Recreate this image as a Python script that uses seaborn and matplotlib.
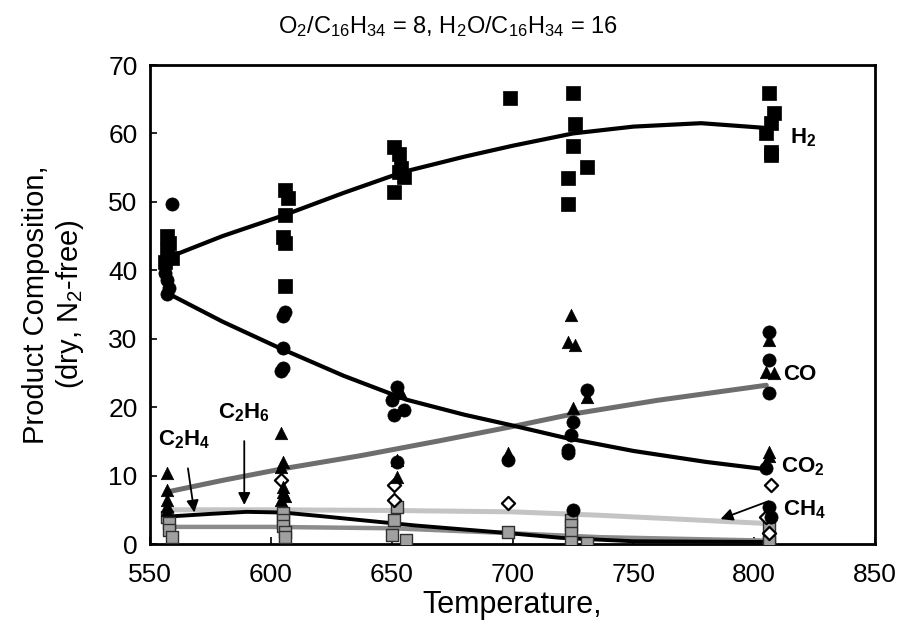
import matplotlib
matplotlib.use("Agg")
import matplotlib.pyplot as plt
import seaborn as sns

H2_T = [557, 558, 557, 559, 556, 606, 607, 606, 605, 606, 606,
        651, 653, 654, 655, 651, 653, 699, 725, 726, 725, 723, 723, 731,
        806, 808, 807, 805, 807, 807]
H2_Y = [45.0, 44.0, 43.0, 41.8, 41.2, 51.8, 50.6, 48.1, 44.9, 44.0, 37.7,
        58.0, 57.0, 55.0, 53.7, 51.5, 54.4, 65.2, 65.9, 61.4, 58.2, 53.5, 49.7, 55.1,
        65.9, 63.0, 61.5, 60.1, 57.3, 56.8]

CO2_T = [559, 556, 557, 558, 557, 606, 605, 605, 605, 604,
         652, 650, 655, 651, 652, 698, 731, 725, 724, 723, 723, 725,
         806, 806, 806, 805, 806, 807]
CO2_Y = [49.7, 39.6, 38.6, 37.4, 36.5, 33.9, 33.3, 28.6, 25.7, 25.3,
         23.0, 21.0, 19.6, 18.9, 12.0, 12.3, 22.5, 17.8, 15.9, 13.7, 13.3, 5.0,
         31.0, 26.9, 22.1, 11.1, 5.4, 4.0]

CO_T = [557, 557, 557, 557, 557, 604, 605, 604, 605, 605, 606, 604,
        654, 652, 652, 698, 724, 723, 726, 725, 731,
        806, 805, 808, 806, 806]
CO_Y = [10.4, 7.9, 6.4, 5.6, 5.0, 16.2, 12.0, 11.3, 8.3, 7.6, 7.0, 6.4,
        22.0, 12.3, 9.8, 13.3, 33.5, 29.5, 29.1, 19.9, 21.5,
        29.8, 25.1, 25.0, 13.4, 12.9]

CH4_T = [604, 651, 651, 698, 807, 805, 806]
CH4_Y = [9.4, 8.6, 6.4, 6.0, 8.6, 3.9, 1.6]

C2_T = [557, 558, 558, 559, 605, 605, 605, 606, 606,
        652, 651, 650, 656, 698, 724, 724, 724, 724, 731,
        806, 806, 806]
C2_Y = [4.0, 3.1, 2.1, 1.0, 4.5, 3.5, 2.6, 1.8, 1.0,
        5.4, 3.5, 1.3, 0.6, 1.8, 3.5, 2.8, 1.6, 0.3, 0.2,
        2.3, 0.8, 0.3]

# fitted curves
H2_FIT_T = [557, 580, 605, 630, 655, 680, 700, 725, 750, 778, 805]
H2_FIT_Y = [41.8, 45.0, 48.0, 51.3, 54.4, 56.6, 58.2, 60.0, 61.0, 61.5, 60.8]
CO2_FIT_T = [557, 580, 602, 630, 656, 680, 699, 722, 750, 780, 803]
CO2_FIT_Y = [36.7, 32.5, 28.9, 24.6, 21.1, 18.9, 17.4, 15.5, 13.6, 12.0, 11.0]
CO_FIT_T = [557, 580, 605, 637, 670, 699, 725, 760, 805]
CO_FIT_Y = [7.6, 9.3, 11.0, 12.9, 15.1, 17.1, 19.0, 21.0, 23.2]
CH4_FIT_T = [557, 600, 650, 700, 736, 765, 805]
CH4_FIT_Y = [5.0, 5.0, 4.9, 4.7, 4.2, 3.7, 3.0]
C2H4_FIT_T = [557, 575, 590, 605, 620, 637, 660, 698, 720, 750, 805]
C2H4_FIT_Y = [4.0, 4.4, 4.7, 4.6, 4.1, 3.5, 2.7, 1.6, 0.9, 0.4, 0.3]
C2H6_FIT_T = [557, 600, 650, 698, 736, 805]
C2H6_FIT_Y = [2.5, 2.5, 2.3, 1.6, 1.0, 0.5]

X_TICKS = [550, 600, 650, 700, 750, 800, 850]
Y_TICKS = [0, 10, 20, 30, 40, 50, 60, 70]


def main():
    sns.set_theme(style="ticks")
    plt.rcParams["font.family"] = ["Liberation Sans", "DejaVu Sans"]
    plt.rcParams["mathtext.default"] = "regular"
    plt.rcParams["text.color"] = "black"
    plt.rcParams["axes.labelcolor"] = "black"

    fig = plt.figure(figsize=(9.01, 6.35), dpi=100)
    ax = fig.add_axes([0.1665, 0.1433, 0.8047, 0.7543])

    # fitted curves (drawn under the markers)
    sns.lineplot(x=CO_FIT_T, y=CO_FIT_Y, color="#6e6e6e", lw=3.6, ax=ax, zorder=2)
    sns.lineplot(x=CH4_FIT_T, y=CH4_FIT_Y, color="#c4c4c4", lw=3.6, ax=ax, zorder=2)
    sns.lineplot(x=C2H6_FIT_T, y=C2H6_FIT_Y, color="#8c8c8c", lw=3.2, ax=ax, zorder=2)
    sns.lineplot(x=C2H4_FIT_T, y=C2H4_FIT_Y, color="black", lw=2.8, ax=ax, zorder=2)
    sns.lineplot(x=H2_FIT_T, y=H2_FIT_Y, color="black", lw=3.0, ax=ax, zorder=2)
    sns.lineplot(x=CO2_FIT_T, y=CO2_FIT_Y, color="black", lw=3.0, ax=ax, zorder=2)

    sns.scatterplot(x=C2_T, y=C2_Y, marker="s", s=70, color="#a0a0a0",
                    edgecolor="#303030", linewidth=1.0, ax=ax, zorder=3)
    sns.scatterplot(x=CH4_T, y=CH4_Y, marker="D", s=45, color="white",
                    edgecolor="black", linewidth=1.6, ax=ax, zorder=3)
    sns.scatterplot(x=CO_T, y=CO_Y, marker="^", s=80, color="black",
                    edgecolor="black", linewidth=0.5, ax=ax, zorder=4)
    sns.scatterplot(x=CO2_T, y=CO2_Y, marker="o", s=90, color="black",
                    edgecolor="black", linewidth=0.5, ax=ax, zorder=4)
    sns.scatterplot(x=H2_T, y=H2_Y, marker="s", s=95, color="black",
                    edgecolor="black", linewidth=0.5, ax=ax, zorder=4)

    ax.set_xlim(550, 850)
    ax.set_ylim(0, 70)
    ax.set_xticks(X_TICKS)
    ax.set_yticks(Y_TICKS)
    ax.tick_params(direction="in", length=5, width=1.2, labelsize=19,
                   colors="black")
    ax.tick_params(axis="x", pad=14)
    ax.tick_params(axis="y", pad=9)
    for side in ("left", "right", "top", "bottom"):
        ax.spines[side].set_visible(True)
        ax.spines[side].set_color("black")
        ax.spines[side].set_linewidth(2.0)

    ax.set_xlabel("Temperature,", fontsize=22, labelpad=2)
    ax.set_ylabel("Product Composition,\n(dry, N$_2$-free)", fontsize=21,
                  labelpad=16, linespacing=1.15)
    fig.text(0.497, 0.958, "O$_2$/C$_{16}$H$_{34}$ = 8, H$_2$O/C$_{16}$H$_{34}$ = 16",
             ha="center", va="center", fontsize=17)

    lab = dict(fontsize=16, fontweight="bold", color="black")
    ax.text(815, 59.4, "H$_2$", ha="left", va="center", **lab)
    ax.text(812, 24.7, "CO", ha="left", va="center", **lab)
    ax.text(811, 11.3, "CO$_2$", ha="left", va="center", **lab)
    ax.text(812, 5.0, "CH$_4$", ha="left", va="center", **lab)
    arrow = dict(arrowstyle="-|>", color="black", lw=1.3, mutation_scale=18)
    ax.annotate("", xy=(785, 3.5), xytext=(807, 6.4), arrowprops=arrow)
    ax.annotate("C$_2$H$_4$", xy=(568.5, 4.2), xytext=(564, 15.2), ha="center",
                va="center", arrowprops=dict(arrow, shrinkA=10), **lab)
    ax.annotate("C$_2$H$_6$", xy=(589, 5.3), xytext=(589, 19.2), ha="center",
                va="center", arrowprops=dict(arrow, shrinkA=10), **lab)

    fig.savefig("out.png", dpi=100)
    plt.close(fig)


if __name__ == "__main__":
    main()
